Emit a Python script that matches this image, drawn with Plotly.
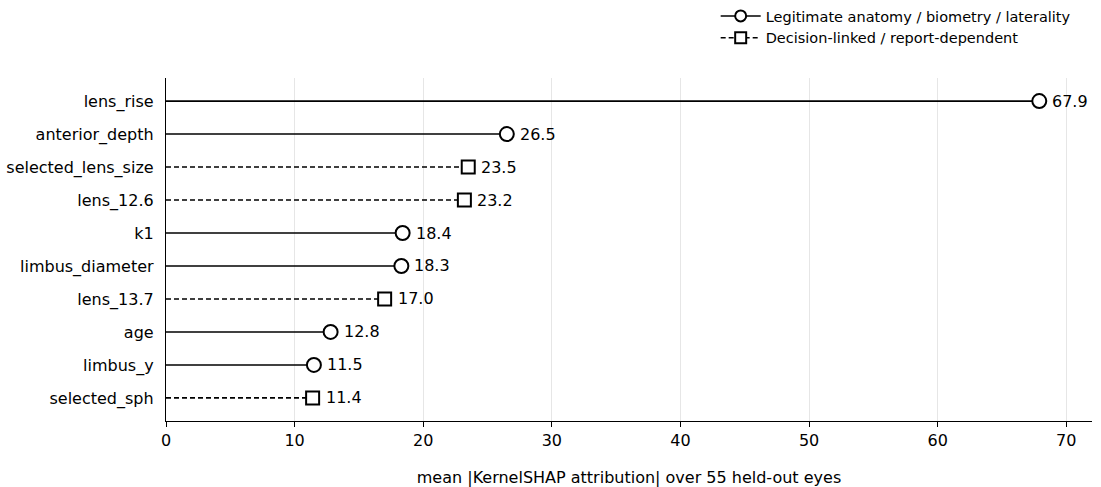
import plotly.graph_objects as go

features = ["lens_rise", "anterior_depth", "selected_lens_size", "lens_12.6", "k1",
            "limbus_diameter", "lens_13.7", "age", "limbus_y", "selected_sph"]
values = [67.9, 26.5, 23.5, 23.2, 18.4, 18.3, 17.0, 12.8, 11.5, 11.4]
groups = ["legit", "legit", "decision", "decision", "legit",
          "legit", "decision", "legit", "legit", "decision"]
group_names = {"legit": "Legitimate anatomy / biometry / laterality",
               "decision": "Decision-linked / report-dependent"}
x_ticks = [0, 10, 20, 30, 40, 50, 60, 70]

styles = {
    "legit": dict(dash="solid", symbol="circle", size=14),
    "decision": dict(dash="5px,3px", symbol="square", size=13),
}

fig = go.Figure()
for g in ["legit", "decision"]:
    st = styles[g]
    xs, ys, mx, my = [], [], [], []
    for f, v, gg in zip(features, values, groups):
        if gg != g:
            continue
        xs += [0, v, None]
        ys += [f, f, None]
        mx.append(v)
        my.append(f)
    fig.add_trace(go.Scatter(x=xs, y=ys, mode="lines", showlegend=False,
                             line=dict(color="black", width=1.6, dash=st["dash"]),
                             hoverinfo="skip"))
    fig.add_trace(go.Scatter(x=mx, y=my, mode="markers", showlegend=False,
                             marker=dict(symbol=st["symbol"], size=st["size"], color="white",
                                         line=dict(width=2, color="black"))))
    fig.add_trace(go.Scatter(x=[None], y=[None], mode="lines+markers", name=group_names[g],
                             line=dict(color="black", width=1.6, dash=st["dash"]),
                             marker=dict(symbol=st["symbol"], size=11, color="white",
                                         line=dict(width=2, color="black"))))

for f, v in zip(features, values):
    fig.add_annotation(x=v, y=f, text=f"{v:.1f}", showarrow=False, xanchor="left",
                       xshift=11, font=dict(size=16, color="black"))

fig.update_layout(
    width=1101, height=487,
    margin=dict(l=166, r=9, t=78, b=66, autoexpand=False),
    paper_bgcolor="white", plot_bgcolor="white",
    font=dict(family="DejaVu Sans", size=16, color="black"),
    legend=dict(x=0.977, xanchor="right", xref="container", y=1.0, yref="container",
                yanchor="top", bgcolor="rgba(0,0,0,0)", font=dict(size=14.5),
                tracegroupgap=0, itemwidth=40),
    xaxis=dict(range=[0, 72], tickvals=x_ticks, showgrid=True, gridcolor="#e6e6e6",
               gridwidth=0.8, showline=True, linecolor="black", linewidth=1.3,
               ticks="outside", ticklen=5, tickcolor="black", zeroline=False,
               automargin=False,
               title=dict(text="mean |KernelSHAP attribution| over 55 held-out eyes",
                          font=dict(size=16), standoff=22)),
    yaxis=dict(categoryorder="array", categoryarray=features, autorange=False,
               range=[9.7, -0.7], showgrid=False, showline=True, linecolor="black",
               linewidth=1.3, ticks="", ticklabelstandoff=8, zeroline=False,
               automargin=False),
)

fig.write_html("out.html", config={"displayModeBar": False},
               post_script="document.body.style.margin='0';window.dispatchEvent(new Event('resize'));")
